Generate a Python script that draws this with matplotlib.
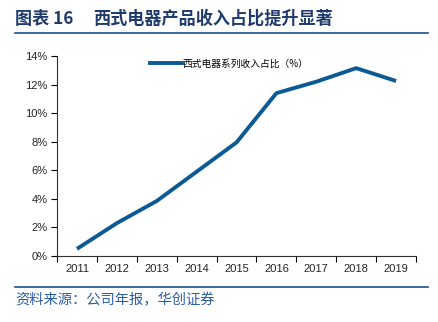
import matplotlib
matplotlib.use("Agg")
import matplotlib.pyplot as plt
from matplotlib.lines import Line2D
from matplotlib.ticker import FuncFormatter, MultipleLocator

years = ["2011", "2012", "2013", "2014", "2015", "2016", "2017", "2018", "2019"]
share = [0.5, 2.3, 3.85, 5.9, 7.95, 11.4, 12.2, 13.15, 12.25]
series_name = "西式电器系列收入占比（%）"
title_num = "图表 16"
title = "西式电器产品收入占比提升显著"
source = "资料来源：公司年报，华创证券"

plt.rcParams['font.family'] = ['Noto Sans CJK SC', 'DejaVu Sans']
W, H = 439, 322
fig = plt.figure(figsize=(W/100, H/100), dpi=100)
ax = fig.add_axes([57/W, 1-256/H, (416-57)/W, (256-56)/H])

x = list(range(len(years)))
ax.plot(x, share, color='#0C5A94', lw=2.8, solid_capstyle='butt')
ax.set_xlim(-0.5, len(years)-0.5)
ax.set_ylim(0, 14)
ax.yaxis.set_major_locator(MultipleLocator(2))
ax.yaxis.set_major_formatter(FuncFormatter(lambda v, p: f"{v:.0f}%"))
ax.set_xticks(x)
ax.set_xticklabels(years)
ax.set_xticks([i - 0.5 for i in range(len(years)+1)], minor=True)
ax.tick_params(axis='x', which='major', length=0, pad=6)
ax.tick_params(axis='x', which='minor', length=4, direction='out', width=0.8)
ax.tick_params(axis='y', length=4, direction='out', width=0.8, pad=3)
for lab in ax.get_xticklabels() + ax.get_yticklabels():
    lab.set_fontfamily(['Liberation Sans', 'DejaVu Sans'])
    lab.set_fontsize(8)
    lab.set_color('#222222')
for s in ['top', 'right']:
    ax.spines[s].set_visible(False)
for s in ['left', 'bottom']:
    ax.spines[s].set_linewidth(0.8)
    ax.spines[s].set_color('#333333')

leg = ax.legend([Line2D([0], [0], color='#0C5A94', lw=2.8)], [series_name],
                loc='upper center', bbox_to_anchor=(0.48, 1.03), frameon=False,
                handlelength=3.3, handletextpad=0.1, prop={'size': 7})

fig.text(15/W, 1-19/H, title_num, fontsize=12.3, fontweight='bold', color='#1F3B6E', va='center', ha='left')
fig.text(93/W, 1-19/H, title, fontsize=12.3, fontweight='bold', color='#1F3B6E', va='center', ha='left')
fig.add_artist(Line2D([15/W, 428/W], [1-33/H, 1-33/H], color='#1F4E8C', lw=1.2))
fig.add_artist(Line2D([15/W, 428/W], [1-287/H, 1-287/H], color='#1F4E8C', lw=1.2))
fig.text(15/W, 1-300/H, source, fontsize=10.3, style='italic', color='#2A5CA8', va='center', ha='left')

fig.savefig('out.png', dpi=100)
